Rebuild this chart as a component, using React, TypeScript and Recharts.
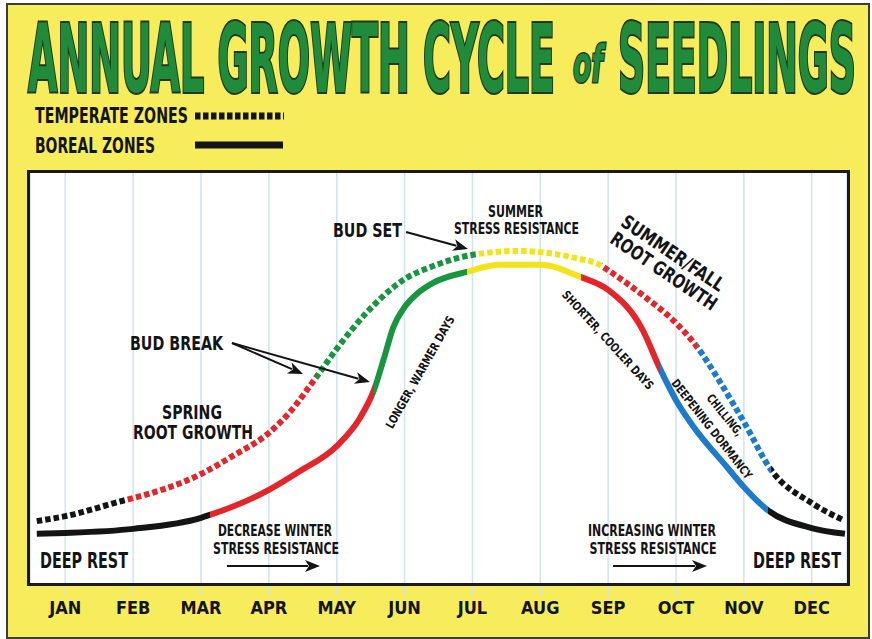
import { LineChart, Line, XAxis, YAxis, CartesianGrid } from 'recharts'

const months = ['JAN', 'FEB', 'MAR', 'APR', 'MAY', 'JUN', 'JUL', 'AUG', 'SEP', 'OCT', 'NOV', 'DEC']
const monthTicks = [0, 1, 2, 3, 4, 5, 6, 7, 8, 9, 10, 11]

// boreal zones (solid line) - month position / relative growth
const borealM = [-0.42, 0, 1, 2, 2.13, 3, 3.46, 4, 4.34, 4.55, 4.71, 4.83, 5, 5.18, 5.42, 5.92, 6.4, 7, 7.6, 8, 8.51, 8.76, 9, 9.25, 9.75, 9.98, 10.35, 11, 11.49]
const borealV = [12.0, 12.2, 13.2, 15.9, 16.6, 22.7, 27.3, 33.4, 40.2, 47.1, 55.6, 62.2, 67.3, 70.5, 73.2, 75.9, 77.6, 77.6, 74.6, 71.5, 61.7, 52.4, 44.6, 38.3, 28.3, 23.8, 17.8, 13.4, 12.0]
const borealBreaks = [2.13, 4.55, 5.92, 7.6, 8.76, 10.35]

// temperate zones (dotted line)
const temperateM = [-0.42, 0, 0.88, 1, 2, 2.47, 3, 3.31, 3.69, 4, 4.45, 5, 5.42, 6.06, 6.7, 7, 7.51, 7.91, 8, 8.51, 9, 9.31, 9.65, 10, 10.4, 11, 11.46]
const temperateV = [15.1, 16.3, 20.2, 20.7, 26.6, 31.0, 36.6, 41.7, 50.0, 57.1, 66.1, 74.1, 77.3, 80.2, 81.0, 80.7, 79.3, 77.3, 76.3, 70.2, 63.4, 57.6, 49.0, 39.3, 27.6, 19.5, 15.4]
const temperateBreaks = [0.88, 3.69, 6.06, 7.91, 9.31, 10.4]

const RED = '#e3262b'
const GREEN = '#17963f'
const YELLOW = '#f3e31b'
const BLUE = '#1c7cc9'
const BLACK = '#141414'
const phaseColors = [BLACK, RED, GREEN, YELLOW, RED, BLUE, BLACK]

const FONT = '"Liberation Sans Narrow", "DejaVu Sans Condensed", sans-serif'
const BG = '#f6ec5c'

const boreal = borealM.map((m, i) => ({ m, v: borealV[i] }))
const temperate = temperateM.map((m, i) => ({ m, v: temperateV[i] }))

function stops(xs: number[], breaks: number[]) {
  const a = xs[0]
  const b = xs[xs.length - 1]
  const out: { off: number; color: string }[] = []
  phaseColors.forEach((c, i) => {
    const from = i === 0 ? 0 : (breaks[i - 1] - a) / (b - a)
    const to = i === phaseColors.length - 1 ? 1 : (breaks[i] - a) / (b - a)
    out.push({ off: from, color: c }, { off: to, color: c })
  })
  return out
}

function Txt({ x, y, size, len, children, anchor = 'middle', rotate = 0 }: any) {
  return (
    <text
      x={x}
      y={y + size * 0.36}
      fontSize={size}
      fontFamily={FONT}
      fontWeight="bold"
      textAnchor={anchor}
      textLength={len}
      lengthAdjust="spacingAndGlyphs"
      transform={rotate ? `rotate(${rotate} ${x} ${y})` : undefined}
      fill="#141414"
    >
      {children}
    </text>
  )
}

function Arrow({ x1, y1, x2, y2 }: any) {
  const a = Math.atan2(y2 - y1, x2 - x1)
  const L = 15
  const W = 6
  const bx = x2 - L * Math.cos(a)
  const by = y2 - L * Math.sin(a)
  const px = -Math.sin(a) * W
  const py = Math.cos(a) * W
  return (
    <g>
      <line x1={x1} y1={y1} x2={bx + 3 * Math.cos(a)} y2={by + 3 * Math.sin(a)} stroke="#141414" strokeWidth={2} />
      <polygon points={`${x2},${y2} ${bx + px},${by + py} ${bx + 4 * Math.cos(a)},${by + 4 * Math.sin(a)} ${bx - px},${by - py}`} fill="#141414" />
    </g>
  )
}

export default function App() {
  const titleProps = {
    fontFamily: FONT,
    fontWeight: 'bold' as const,
    fill: '#1f8b3b',
    stroke: '#22381c',
    strokeWidth: 4,
    paintOrder: 'stroke',
    lengthAdjust: 'spacingAndGlyphs',
  }
  return (
    <div style={{ position: 'absolute', left: 0, top: 0, width: 872, height: 639, background: '#fff', overflow: 'hidden' }}>
      <div style={{ position: 'absolute', left: 6, top: 3, width: 860, height: 632, background: BG, border: '2px solid #3c3c3c' }} />
      <div style={{ position: 'absolute', left: 0, top: 0 }}>
        <LineChart width={872} height={639} margin={{ top: 173, right: 25, bottom: 26, left: 30 }}>
          <defs>
            <linearGradient id="borealGrad" x1="0" y1="0" x2="1" y2="0">
              {stops(borealM, borealBreaks).map((s, i) => (
                <stop key={i} offset={s.off} stopColor={s.color} />
              ))}
            </linearGradient>
            <linearGradient id="temperateGrad" x1="0" y1="0" x2="1" y2="0">
              {stops(temperateM, temperateBreaks).map((s, i) => (
                <stop key={i} offset={s.off} stopColor={s.color} />
              ))}
            </linearGradient>
          </defs>
          <CartesianGrid horizontal={false} stroke="#cfe2f4" strokeWidth={1.5} fill="#fff" fillOpacity={1} />
          <XAxis
            dataKey="m"
            type="number"
            domain={[-0.52, 11.52]}
            ticks={monthTicks}
            allowDataOverflow
            height={30}
            axisLine={false}
            tickSize={12}
            tickMargin={6}
            tickLine={{ stroke: '#cfe2f4', strokeWidth: 1.5 }}
            tickFormatter={(v: number) => months[v]}
            tick={{ fontFamily: FONT, fontSize: 18, fontWeight: 'bold', fill: '#141414' }}
          />
          <YAxis hide type="number" domain={[0, 100]} />
          <Line data={temperate} dataKey="v" type="monotone" stroke="url(#temperateGrad)" strokeWidth={6} strokeDasharray="5.5 3" dot={false} isAnimationActive={false} />
          <Line data={boreal} dataKey="v" type="monotone" stroke="url(#borealGrad)" strokeWidth={6} dot={false} isAnimationActive={false} />
        </LineChart>
      </div>
      <svg width={872} height={639} style={{ position: 'absolute', left: 0, top: 0, pointerEvents: 'none' }}>
        <rect x={28.5} y={171.5} width={820} height={413} fill="none" stroke="#1a1a1a" strokeWidth={3} />

        <text {...titleProps} x={28} y={92} fontSize={94} textLength={527}>ANNUAL GROWTH CYCLE</text>
        <text {...titleProps} x={573} y={82} fontSize={52} fontStyle="italic" strokeWidth={3} textLength={30}>of</text>
        <text {...titleProps} x={618} y={92} fontSize={94} textLength={238}>SEEDLINGS</text>

        <Txt x={35} y={115.5} size={21} len={153} anchor="start">TEMPERATE ZONES</Txt>
        <Txt x={35} y={145} size={21} len={120} anchor="start">BOREAL ZONES</Txt>
        <line x1={195} y1={116} x2={284} y2={116} stroke="#141414" strokeWidth={7} strokeDasharray="5.5 2.5" />
        <line x1={195} y1={145} x2={283} y2={145} stroke="#141414" strokeWidth={7} />

        <Txt x={84} y={560} size={21} len={88}>DEEP REST</Txt>
        <Txt x={797} y={560} size={21} len={88}>DEEP REST</Txt>
        <Txt x={275} y={531} size={15} len={114}>DECREASE WINTER</Txt>
        <Txt x={276} y={549} size={15} len={126}>STRESS RESISTANCE</Txt>
        <Arrow x1={227} y1={566} x2={320} y2={566} />
        <Txt x={652} y={531} size={15} len={128}>INCREASING WINTER</Txt>
        <Txt x={653} y={549} size={15} len={127}>STRESS RESISTANCE</Txt>
        <Arrow x1={613} y1={566} x2={707} y2={566} />

        <Txt x={192} y={412} size={20} len={60}>SPRING</Txt>
        <Txt x={193} y={432} size={20} len={120}>ROOT GROWTH</Txt>
        <Txt x={176.5} y={343} size={20} len={93}>BUD BREAK</Txt>
        <Arrow x1={232} y1={343} x2={303} y2={374} />
        <Arrow x1={232} y1={343} x2={370} y2={382} />
        <Txt x={367.5} y={230} size={20} len={69}>BUD SET</Txt>
        <Arrow x1={406} y1={232} x2={468} y2={249} />
        <Txt x={515.5} y={212} size={15} len={55}>SUMMER</Txt>
        <Txt x={516.5} y={229} size={15} len={125}>STRESS RESISTANCE</Txt>

        <Txt x={420} y={372} size={12} len={127} rotate={-60.5}>LONGER, WARMER DAYS</Txt>
        <Txt x={608} y={340} size={12} len={129} rotate={47.5}>SHORTER, COOLER DAYS</Txt>
        <Txt x={725} y={415} size={12} len={50} rotate={51}>CHILLING,</Txt>
        <Txt x={712} y={429} size={12} len={123} rotate={52}>DEEPENING DORMANCY</Txt>
        <Txt x={673} y={253} size={19} len={120} rotate={34}>SUMMER/FALL</Txt>
        <Txt x={664} y={271} size={19} len={124} rotate={34}>ROOT GROWTH</Txt>
      </svg>
    </div>
  )
}
